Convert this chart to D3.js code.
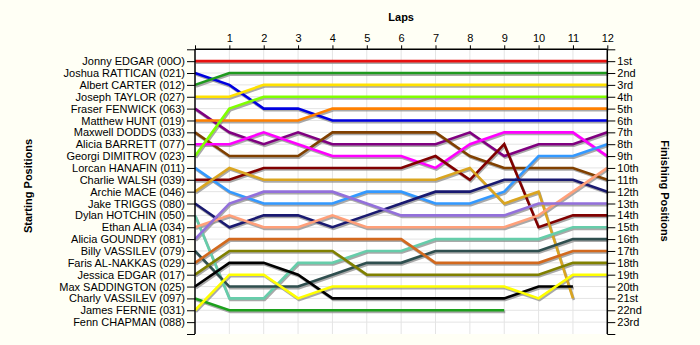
<!DOCTYPE html>
<html>
<head>
<meta charset="utf-8">
<script src="https://cdn.jsdelivr.net/npm/d3@7"></script>
<style>
  body { margin: 0; background: #fffff5; }
  svg { display: block; font-family: Arial, "Liberation Sans", sans-serif; }
</style>
</head>
<body>
<svg id="chart" width="700" height="345"></svg>
<script>
// Riders in starting order
var riders = [
    "Jonny EDGAR (00O)", "Joshua RATTICAN (021)", "Albert CARTER (012)", "Joseph TAYLOR (027)",
    "Fraser FENWICK (063)", "Matthew HUNT (019)", "Maxwell DODDS (033)", "Alicia BARRETT (077)",
    "Georgi DIMITROV (023)", "Lorcan HANAFIN (011)", "Charlie WALSH (039)", "Archie MACE (046)",
    "Jake TRIGGS (080)", "Dylan HOTCHIN (050)", "Ethan ALIA (034)", "Alicia GOUNDRY (081)",
    "Billy VASSILEV (079)", "Faris AL-NAKKAS (029)", "Jessica EDGAR (017)", "Max SADDINGTON (025)",
    "Charly VASSILEV (097)", "James FERNIE (031)", "Fenn CHAPMAN (088)"
];

// Lap numbers (0 = start)
var laps = [0, 1, 2, 3, 4, 5, 6, 7, 8, 9, 10, 11, 12];

var finishLabels = [
    "1st", "2nd", "3rd", "4th", "5th", "6th", "7th", "8th", "9th", "10th", "11th", "12th",
    "13th", "14th", "15th", "16th", "17th", "18th", "19th", "20th", "21st", "22nd", "23rd"
];

// Position of each rider at the end of each lap (null = no longer running)
var positions = [
    [1, 1, 1, 1, 1, 1, 1, 1, 1, 1, 1, 1, 1],
    [2, 3, 5, 5, 6, 6, 6, 6, 6, 6, 6, 6, 6],
    [3, 2, 2, 2, 2, 2, 2, 2, 2, 2, 2, 2, 2],
    [4, 4, 3, 3, 3, 3, 3, 3, 3, 3, 3, 3, 3],
    [5, 7, 8, 7, 8, 8, 8, 8, 7, 9, 8, 8, 7],
    [6, 6, 6, 6, 5, 5, 5, 5, 5, 5, 5, 5, 5],
    [7, 9, 9, 9, 7, 7, 7, 7, 9, 10, 10, 10, 11],
    [8, 8, 7, 8, 9, 9, 9, 10, 8, 7, 7, 7, 9],
    [9, 5, 4, 4, 4, 4, 4, 4, 4, 4, 4, 4, 4],
    [10, 12, 13, 13, 13, 12, 12, 13, 13, 12, 9, 9, 8],
    [11, 11, 10, 10, 10, 10, 10, 9, 11, 8, 15, 14, 14],
    [12, 10, 11, 11, 11, 11, 11, 11, 10, 13, 12, 21, null],
    [13, 15, 14, 14, 15, 14, 13, 12, 12, 11, 11, 11, 12],
    [14, 21, 21, 18, 18, 17, 17, 16, 16, 16, 16, 15, 15],
    [15, 14, 15, 15, 14, 15, 15, 15, 15, 15, 14, 12, 10],
    [16, 13, 12, 12, 12, 13, 14, 14, 14, 14, 13, 13, 13],
    [17, 20, 20, 20, 19, 18, 18, 17, 17, 17, 17, 16, 16],
    [18, 16, 16, 16, 16, 16, 16, 18, 18, 18, 18, 17, 17],
    [19, 17, 17, 17, 17, 19, 19, 19, 19, 19, 19, 18, 18],
    [20, 18, 18, 19, 21, 21, 21, 21, 21, 21, 20, 20, null],
    [21, 22, 22, 22, 22, 22, 22, 22, 22, 22, null, null, null],
    [22, 19, 19, 21, 20, 20, 20, 20, 20, 20, 21, 19, 19],
    []
];

var colours = [
    "#e81010", "#0000e0", "#1f9a1f", "#ffe100", "#800080", "#ff8000", "#804000", "#ff00ff",
    "#80ff00", "#3399ff", "#800000", "#daa520", "#191970", "#66cdaa", "#ffa07a", "#9370db",
    "#2f4f4f", "#d2691e", "#808000", "#000000", "#1ca01c", "#ffff00", "#999999"
];

// Plot box
var plotLeft = 195, plotRight = 607.3, plotTop = 49.3, plotBottom = 334;

var svg = d3.select("#chart");

var x = d3.scaleLinear().domain([0, 12]).range([plotLeft, plotRight]);
var y = d3.scaleLinear().domain([0, 24]).range([plotTop, plotBottom]);

var rows = d3.range(0, 25);

// Plot background
svg.append("rect")
    .attr("x", plotLeft).attr("y", plotTop)
    .attr("width", plotRight - plotLeft).attr("height", plotBottom - plotTop)
    .style("fill", "#ffffff");

// Grid lines
var grid = svg.append("g").attr("class", "grid");
grid.selectAll(".vgrid").data(laps.slice(1)).enter()
    .append("line")
    .attr("x1", function (d) { return x(d); })
    .attr("x2", function (d) { return x(d); })
    .attr("y1", plotTop).attr("y2", plotBottom)
    .style("stroke", "#e4e4e4").style("stroke-width", 1);
grid.selectAll(".hgrid").data(d3.range(1, 24)).enter()
    .append("line")
    .attr("x1", plotLeft).attr("x2", plotRight)
    .attr("y1", function (d) { return y(d); })
    .attr("y2", function (d) { return y(d); })
    .style("stroke", "#e4e4e4").style("stroke-width", 1);

// Lines, each with a soft grey drop shadow
var line = d3.line()
    .defined(function (d) { return d != null; })
    .x(function (d, i) { return x(laps[i]); })
    .y(function (d) { return y(d); });

var series = riders.map(function (r, i) { return { name: r, pos: positions[i], colour: colours[i] }; })
    .filter(function (s) { return s.pos.length > 0; });

svg.append("g").attr("transform", "translate(1,1.6)")
    .selectAll("path").data(series).enter()
    .append("path")
    .attr("d", function (s) { return line(s.pos); })
    .style("fill", "none")
    .style("stroke", "#8c8c8c")
    .style("stroke-opacity", 0.75)
    .style("stroke-width", 2.6);

svg.append("g")
    .selectAll("path").data(series).enter()
    .append("path")
    .attr("d", function (s) { return line(s.pos); })
    .style("fill", "none")
    .style("stroke", function (s) { return s.colour; })
    .style("stroke-width", 2.6);

// Axes
var topAxis = d3.axisTop(x).tickValues(laps).tickSize(4).tickPadding(3)
    .tickFormat(function (d) { return d === 0 ? "" : d; });
var leftAxis = d3.axisLeft(y).tickValues(rows).tickSize(8).tickPadding(2)
    .tickFormat(function (d) { return riders[d - 1] || ""; });
var rightAxis = d3.axisRight(y).tickValues(rows).tickSize(8).tickPadding(2)
    .tickFormat(function (d) { return finishLabels[d - 1] || ""; });

// d3 puts its own sans-serif font on the axis group, swap it for Arial
function styleAxis(g) {
    g.attr("font-family", null).attr("font-size", null);
    g.select(".domain").remove();
    g.selectAll("line").style("stroke", "#000");
    g.selectAll("text")
        .style("font-family", "Arial, 'Liberation Sans', sans-serif")
        .style("font-size", "11px").style("fill", "#000");
}

svg.append("g").attr("transform", "translate(0," + plotTop + ")").call(topAxis).call(styleAxis);
svg.append("g").attr("transform", "translate(" + plotLeft + ",0)").call(leftAxis).call(styleAxis);
svg.append("g").attr("transform", "translate(" + plotRight + ",0)").call(rightAxis).call(styleAxis);

// Axis lines
svg.append("line").attr("x1", plotLeft).attr("x2", plotRight).attr("y1", plotTop).attr("y2", plotTop)
    .style("stroke", "#000").style("stroke-width", 1.5);
svg.append("line").attr("x1", plotLeft).attr("x2", plotLeft).attr("y1", plotTop).attr("y2", plotBottom)
    .style("stroke", "#000").style("stroke-width", 1.5);
svg.append("line").attr("x1", plotRight).attr("x2", plotRight).attr("y1", plotTop).attr("y2", plotBottom)
    .style("stroke", "#000").style("stroke-width", 1.5);

// Titles
svg.append("text")
    .attr("x", (plotLeft + plotRight) / 2).attr("y", 21)
    .attr("text-anchor", "middle")
    .style("font-size", "11px").style("font-weight", "bold")
    .text("Laps");

svg.append("text")
    .attr("transform", "translate(32,186) rotate(-90)")
    .attr("text-anchor", "middle")
    .style("font-size", "11px").style("font-weight", "bold")
    .text("Starting Positions");

svg.append("text")
    .attr("transform", "translate(661,191) rotate(90)")
    .attr("text-anchor", "middle")
    .style("font-size", "11px").style("font-weight", "bold")
    .text("Finishing Positions");
</script>
</body>
</html>
